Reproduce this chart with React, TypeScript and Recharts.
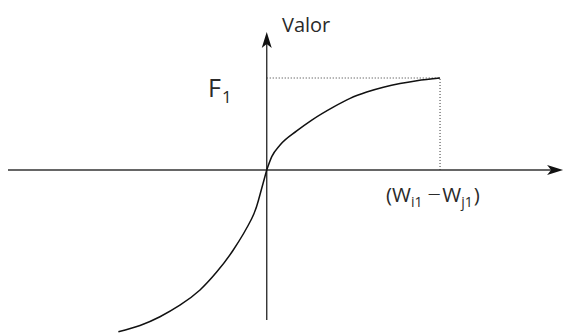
import { LineChart, Line, XAxis, YAxis, ReferenceLine, ReferenceDot } from 'recharts';

// curve (x: 1 = W, y: 1 = F1), drawn in two pieces that meet at the origin
const lowerX = [-0.856, -0.731, -0.616, -0.501, -0.385, -0.289, -0.193, -0.087, -0.045, 0];
const lowerY = [-1.758, -1.69, -1.595, -1.47, -1.304, -1.11, -0.87, -0.53, -0.31, 0];
const upperX = [0, 0.029, 0.077, 0.173, 0.26, 0.384, 0.481, 0.577, 0.673, 0.769, 0.866, 1];
const upperY = [0, 0.145, 0.272, 0.425, 0.543, 0.684, 0.779, 0.847, 0.899, 0.94, 0.971, 1];

const xAxisExtent = [-1.493, 1.71];
const yAxisExtent = [-1.63, 1.5];
const wPoint = 1;
const fPoint = 1;

const labelValor = 'Valor';
const labelF = 'F';
const subF = '1';
const labelW1 = '(W';
const subW1 = 'i1';
const labelMinus = '\u2212';
const labelW2 = 'W';
const subW2 = 'j1';
const labelClose = ')';

const lower = lowerX.map((x, i) => ({ x, y: lowerY[i] }));
const upper = upperX.map((x, i) => ({ x, y: upperY[i] }));

const font = '"Open Sans", sans-serif';
const ink = '#2a2a2a';

function Arrow(props: any) {
  const { x1, y1, x2, y2 } = props;
  const a = Math.atan2(y2 - y1, x2 - x1);
  const len = 16;
  const half = 5;
  const pt = (d: number, s: number) => {
    const px = x2 - Math.cos(a) * d - Math.sin(a) * s;
    const py = y2 - Math.sin(a) * d + Math.cos(a) * s;
    return `${px},${py}`;
  };
  return (
    <g>
      <line x1={x1} y1={y1} x2={x2 - Math.cos(a) * 10} y2={y2 - Math.sin(a) * 10} stroke="#333" strokeWidth={1.4} />
      <polygon points={`${x2},${y2} ${pt(len, half)} ${pt(len - 4, 0)} ${pt(len, -half)}`} fill="#111" />
    </g>
  );
}

const ValorText = (props: any) => (
  <text x={props.cx} y={props.cy} fontFamily={font} fontSize={20} fill={ink}>{labelValor}</text>
);

const FText = (props: any) => (
  <text x={props.cx} y={props.cy} fontFamily={font} fontSize={25} fill={ink}>
    <tspan>{labelF}</tspan>
    <tspan fontSize={17} dx={1} dy={6.5}>{subF}</tspan>
  </text>
);

const WText = (props: any) => (
  <text x={props.cx} y={props.cy} fontFamily={font} fontSize={20.5} fill={ink}>
    <tspan>{labelW1}</tspan>
    <tspan fontSize={14} dy={5.5}>{subW1}</tspan>
    <tspan fontSize={24} fontWeight={300} dx={5} dy={-4.5}>{labelMinus}</tspan>
    <tspan dx={1} dy={-1}>{labelW2}</tspan>
    <tspan fontSize={14} dy={5.5}>{subW2}</tspan>
    <tspan dx={1} dy={-5.5}>{labelClose}</tspan>
  </text>
);

export default function App() {
  return (
    <div style={{ position: 'absolute', left: 0, top: 0, background: '#fff' }}>
      <LineChart width={565} height={333} margin={{ top: 0, right: 0, bottom: 0, left: 0 }}>
        <XAxis type="number" dataKey="x" domain={[-1.539, 1.721]} allowDataOverflow hide />
        <YAxis type="number" domain={[-1.772, 1.848]} allowDataOverflow hide />
        <ReferenceLine segment={[{ x: 0, y: fPoint }, { x: wPoint, y: fPoint }]} stroke="#333" strokeWidth={1} strokeDasharray="1 2" ifOverflow="visible" />
        <ReferenceLine segment={[{ x: wPoint, y: 0 }, { x: wPoint, y: fPoint }]} stroke="#333" strokeWidth={1} strokeDasharray="1 2" ifOverflow="visible" />
        <ReferenceLine segment={[{ x: xAxisExtent[0], y: 0 }, { x: xAxisExtent[1], y: 0 }]} shape={Arrow} ifOverflow="visible" />
        <ReferenceLine segment={[{ x: 0, y: yAxisExtent[0] }, { x: 0, y: yAxisExtent[1] }]} shape={Arrow} ifOverflow="visible" />
        <Line data={lower} type="natural" dataKey="y" stroke="#111" strokeWidth={1.5} dot={false} activeDot={false} isAnimationActive={false} />
        <Line data={upper} type="monotone" dataKey="y" stroke="#111" strokeWidth={1.5} dot={false} activeDot={false} isAnimationActive={false} />
        <ReferenceDot x={0.088} y={1.5} r={0} ifOverflow="visible" shape={ValorText} />
        <ReferenceDot x={-0.339} y={0.797} r={0} ifOverflow="visible" shape={FText} />
        <ReferenceDot x={0.688} y={-0.345} r={0} ifOverflow="visible" shape={WText} />
      </LineChart>
    </div>
  );
}
